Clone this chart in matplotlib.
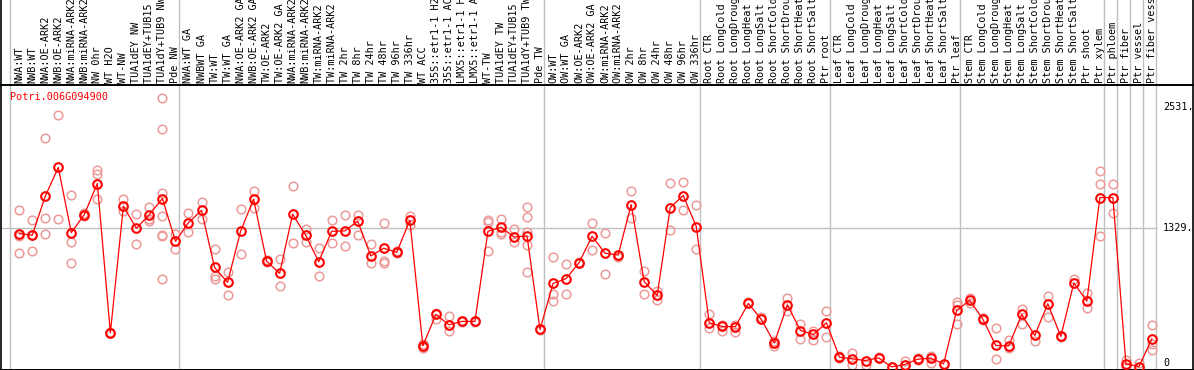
import matplotlib
matplotlib.use("Agg")
import matplotlib.pyplot as plt
import matplotlib.transforms as mtransforms
from matplotlib.lines import Line2D

gene = "Potri.006G094900"

samples = [
    "NWA:WT", "NWB:WT", "NWA:OE-ARK2", "NWB:OE-ARK2", "NWA:miRNA-ARK2", "NWB:miRNA-ARK2",
    "NW 0hr", "WT H2O", "WT-NW", "TUA1dEY NW", "TUA1dEY+TUB15 NW", "TUA1dY+TUB9 NW", "Pde NW",
    "NWA:WT GA", "NWBWT GA", "TW:WT", "TW:WT GA", "NWA:OE-ARK2 GA", "NWB:OE-ARK2 GA",
    "TW:OE-ARK2", "TW:OE-ARK2 GA", "NWA:miRNA-ARK2 GA", "NWB:miRNA-ARK2 GA", "TW:miRNA-ARK2",
    "TW:miRNA-ARK2 GA", "TW 2hr", "TW 8hr", "TW 24hr", "TW 48hr", "TW 96hr", "TW 336hr", "WT ACC",
    "35S::etr1-1 H2O", "35S::etr1-1 ACC", "LMX5::etr1-1 H2O", "LMX5::etr1-1 ACC", "WT-TW",
    "TUA1dEY TW", "TUA1dEY+TUB15 TW", "TUA1dY+TUB9 TW", "Pde TW",
    "OW:WT", "OW:WT GA", "OW:OE-ARK2", "OW:OE-ARK2 GA", "OW:miRNA-ARK2", "OW:miRNA-ARK2 GA",
    "OW 2hr", "OW 8hr", "OW 24hr", "OW 48hr", "OW 96hr", "OW 336hr",
    "Root CTR", "Root LongCold", "Root LongDrought", "Root LongHeat", "Root LongSalt",
    "Root ShortCold", "Root ShortDrought", "Root ShortHeat", "Root ShortSalt", "Ptr root",
    "Leaf CTR", "Leaf LongCold", "Leaf LongDrought", "Leaf LongHeat", "Leaf LongSalt",
    "Leaf ShortCold", "Leaf ShortDrought", "Leaf ShortHeat", "Leaf ShortSalt", "Ptr leaf",
    "Stem CTR", "Stem LongCold", "Stem LongDrought", "Stem LongHeat", "Stem LongSalt",
    "Stem ShortCold", "Stem ShortDrought", "Stem ShortHeat", "Stem ShortSalt", "Ptr shoot",
    "Ptr xylem", "Ptr phloem", "Ptr fiber", "Ptr vessel", "Ptr fiber vessel",
]

# group boundaries (sample index where a new group starts)
group_edges = [0, 13, 41, 53, 63, 73, 84, 85, 86, 87, 88]

means = [
    1276, 1260, 1646, 1931, 1286, 1465, 1772, 294, 1547, 1329, 1465, 1623, 1200,
    1385, 1507, 942, 793, 1299, 1617, 1002, 883, 1468, 1260, 998, 1299, 1303, 1398,
    1055, 1131, 1091, 1408, 165, 476, 374, 407, 407, 1299, 1339, 1243, 1253, 327,
    783, 830, 989, 1250, 1081, 1064, 1564, 800, 665, 1534, 1653, 1346,
    393, 357, 354, 585, 426, 195, 572, 317, 278, 393,
    53, 36, 20, 46, -43, -20, 33, 43, -13, 516,
    615, 433, 169, 165, 476, 268, 582, 258, 787, 608, 1633,
    1633, -13, -40, 235,
]

replicates = [
    [1507, 1253, 1088], [1408, 1260, 1108], [2218, 1435, 1270], [2447, 1425],
    [1663, 1197, 989], [1480, 1455, 1460], [1904, 1865, 1620], [300, 290],
    [1617, 1501], [1475, 1177], [1540, 1425, 1405], [2615, 2308, 1679, 1455, 1260, 1250, 830],
    [1270, 1128], [1484, 1293], [1584, 1425], [1128, 853, 826], [899, 671],
    [1517, 1078], [1696, 1534], [1010, 995], [1022, 754], [1743, 1187],
    [1326, 1193], [1137, 859], [1408, 1187], [1465, 1150], [1465, 1260],
    [1170, 989], [1385, 1005, 990], [1100, 1085], [1448, 1359], [185, 142],
    [486, 430], [456, 311], [415, 400], [412, 402], [1415, 1392, 1108],
    [1418, 1290, 1273], [1326, 1193], [1537, 1441, 1293, 1167, 893], [335, 320],
    [1048, 674, 605], [979, 681], [995, 985], [1385, 1118], [1286, 880],
    [1050, 1045], [1696, 1435], [909, 681], [707, 615], [1775, 1316],
    [1785, 1514], [1564, 1128],
    [476, 344], [374, 311], [374, 301], [598], [450], [218, 159], [641, 506],
    [383, 228], [311, 225], [506, 251],
    [60, 45], [93, -20], [-20], [50, 40], [-40], [13], [45, 25], [69, 0], [-10],
    [598, 565, 383],
    [641, 585], [440, 425], [337, 36], [225, 139], [526, 383], [218], [655, 450],
    [265, 250], [830], [688, 542], [1894, 1772, 1250],
    [1772, 1484], [26, -46], [-7], [374, 185, 126],
]

ytick_vals = [2531, 1329, 0]
ytick_text = ["2531.", "1329.", "0"]

W, H = 1194, 370
fig = plt.figure(figsize=(W / 100, H / 100), dpi=100)
ax = fig.add_axes([1 / W, 0.5 / H, (W - 1) / W, (369.5 - 85) / H])

mono = "DejaVu Sans Mono"
fs = 7.3
grey = "#c0c0c0"

xs = [i + 0.71 for i in range(len(means))]

ax.set_xlim(-0.69, 90.94)
ax.set_ylim(-69, 2747)

# group separators, extending up through the label area
top_frac = 369.5 / (369.5 - 85)
for k in group_edges:
    ax.axvline(k, ymin=0, ymax=top_frac, color=grey, lw=1, clip_on=False, zorder=0)
ax.axhline(1329, xmin=0, xmax=(88 + 0.69) / (90.94 + 0.69), color=grey, lw=1, zorder=0)

# replicate points
for x, reps in zip(xs, replicates):
    ax.plot([x] * len(reps), reps, linestyle="none", marker="o", markersize=6.2,
            markerfacecolor="none", markeredgecolor="#ec9a9a", markeredgewidth=1.1, zorder=2)

# mean line
ax.plot(xs, means, color="red", lw=0.9, marker="o", markersize=6.2,
        markerfacecolor="none", markeredgecolor="red", markeredgewidth=1.5, zorder=3)

# sample labels above the plot
lab_trans = mtransforms.blended_transform_factory(ax.transData, ax.transAxes)
lab_y = (369.5 - 83) / (369.5 - 85)
for x, s in zip(xs, samples):
    ax.text(x, lab_y, s[:14], rotation=90, ha="center", va="bottom", fontsize=fs,
            family=mono, transform=lab_trans, clip_on=False)

# value labels on the right
for v, t in zip(ytick_vals, ytick_text):
    ax.text(88.55, v, t, ha="left", va="center", fontsize=fs, family=mono)

ax.text(0.0, (369.5 - 97) / (369.5 - 85), gene, color="red", ha="left", va="center",
        fontsize=fs, family=mono, transform=lab_trans)

ax.set_xticks([])
ax.set_yticks([])
ax.spines["right"].set_visible(False)
ax.spines["left"].set_visible(False)
for sp in ["top", "bottom"]:
    ax.spines[sp].set_color("black")
    ax.spines[sp].set_linewidth(1.4)

# outer frame lines spanning the whole height
for px in (1.0, W - 1.0):
    fig.add_artist(Line2D([px / W, px / W], [0, 1], transform=fig.transFigure,
                          color="black", lw=1.2))

fig.savefig("out.png", dpi=100)
